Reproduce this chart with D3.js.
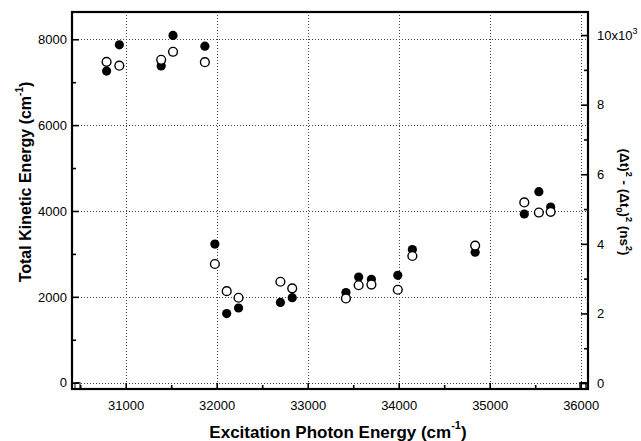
<!DOCTYPE html>
<html>
<head>
<meta charset="utf-8">
<script src="https://cdn.jsdelivr.net/npm/d3@7"></script>
<style>
  html, body { margin: 0; padding: 0; background: #fff; }
  svg { display: block; font-family: "Liberation Sans", Arial, Helvetica, sans-serif; }
</style>
</head>
<body>
<svg id="chart" width="641" height="441"></svg>
<script>
// Excitation photon energy (cm^-1)
const photonEnergy = [30790, 30930, 31390, 31520, 31870, 31980, 32110, 32240, 32700, 32830,
                      33420, 33560, 33700, 33990, 34150, 34840, 35380, 35540, 35670];
// Total kinetic energy (cm^-1), filled circles, left axis
const kineticEnergy = [7260, 7870, 7380, 8090, 7840, 3230, 1610, 1740, 1870, 1980,
                       2100, 2460, 2410, 2500, 3100, 3040, 3930, 4450, 4090];
// (Δt)^2 - (Δt0)^2 (ns^2), open circles, right axis
const timeSpread = [9230, 9120, 9290, 9520, 9220, 3420, 2640, 2450, 2910, 2720,
                    2430, 2810, 2830, 2680, 3650, 3950, 5190, 4900, 4920];

const xTicks = [31000, 32000, 33000, 34000, 35000, 36000];
const xMinorTicks = [30500, 31500, 32500, 33500, 34500, 35500];
const yLeftTicks = [0, 2000, 4000, 6000, 8000];
const yLeftMinor = [1000, 3000, 5000, 7000];
const yRightTicks = [0, 2000, 4000, 6000, 8000, 10000];
const yRightMinor = [1000, 3000, 5000, 7000, 9000];

const L = 72, R = 588, T = 12, B = 389;
const svg = d3.select("#chart");

const x = d3.scaleLinear().domain([30410, 36080]).range([L, R]);
const yL = d3.scaleLinear().domain([-147, 8635]).range([B, T]);
const yR = d3.scaleLinear().domain([-172, 10663]).range([B, T]);

// grid (dotted)
const grid = svg.append("g").attr("stroke", "#444").attr("stroke-width", 1)
  .attr("stroke-dasharray", "1,2").attr("fill", "none");
xTicks.forEach(v => grid.append("line")
  .attr("x1", Math.round(x(v)) + 0.5).attr("x2", Math.round(x(v)) + 0.5)
  .attr("y1", T).attr("y2", B));
yLeftTicks.forEach(v => grid.append("line")
  .attr("x1", L).attr("x2", R)
  .attr("y1", Math.round(yL(v)) + 0.5).attr("y2", Math.round(yL(v)) + 0.5));

// axes via d3
const tickFont = 13;
const xAxis = d3.axisBottom(x).tickValues(xTicks).tickSizeInner(-6).tickSizeOuter(0).tickPadding(12)
  .tickFormat(d3.format("d"));
const gx = svg.append("g").attr("transform", `translate(0,${B})`).call(xAxis);
const xAxisMinor = d3.axisBottom(x).tickValues(xMinorTicks).tickSizeInner(-4).tickSizeOuter(0).tickFormat("");
const gxm = svg.append("g").attr("transform", `translate(0,${B})`).call(xAxisMinor);

const yAxisL = d3.axisLeft(yL).tickValues(yLeftTicks).tickSizeInner(-7).tickSizeOuter(0).tickPadding(5)
  .tickFormat(d3.format("d"));
const gyl = svg.append("g").attr("transform", `translate(${L},0)`).call(yAxisL);
const yAxisLMinor = d3.axisLeft(yL).tickValues(yLeftMinor).tickSizeInner(-4).tickSizeOuter(0).tickFormat("");
const gylm = svg.append("g").attr("transform", `translate(${L},0)`).call(yAxisLMinor);

const yAxisR = d3.axisRight(yR).tickValues(yRightTicks).tickSizeInner(-7).tickSizeOuter(0).tickPadding(9)
  .tickFormat(d => d === 10000 ? "10x10" : String(d / 1000));
const gyr = svg.append("g").attr("transform", `translate(${R},0)`).call(yAxisR);
const yAxisRMinor = d3.axisRight(yR).tickValues(yRightMinor).tickSizeInner(-4).tickSizeOuter(0).tickFormat("");
const gyrm = svg.append("g").attr("transform", `translate(${R},0)`).call(yAxisRMinor);

[gx, gxm, gyl, gylm, gyr, gyrm].forEach(g => {
  g.select(".domain").remove();
  g.selectAll("line").attr("stroke", "#000").attr("stroke-width", 1.6);
  g.selectAll("text").attr("font-size", tickFont).attr("fill", "#000")
    .attr("font-family", "Liberation Sans, Arial, sans-serif");
});
gyr.selectAll("text").filter(d => d === 10000)
  .append("tspan").attr("dy", -6).attr("font-size", 9).text("3");

// frame
svg.append("rect").attr("x", L).attr("y", T).attr("width", R - L).attr("height", B - T)
  .attr("fill", "none").attr("stroke", "#000").attr("stroke-width", 2.2);

// small corner boxes at the zero lines
svg.append("rect").attr("x", L + 3).attr("y", yL(0)).attr("width", 5).attr("height", B - yL(0))
  .attr("fill", "none").attr("stroke", "#000").attr("stroke-width", 1);
svg.append("rect").attr("x", R - 8).attr("y", yL(0)).attr("width", 6).attr("height", B - yL(0))
  .attr("fill", "none").attr("stroke", "#000").attr("stroke-width", 1.4);

// data: filled circles (left axis)
svg.append("g").selectAll("circle").data(photonEnergy).join("circle")
  .attr("cx", d => x(d)).attr("cy", (d, i) => yL(kineticEnergy[i])).attr("r", 4.6)
  .attr("fill", "#000");
// data: open circles (right axis)
svg.append("g").selectAll("circle").data(photonEnergy).join("circle")
  .attr("cx", d => x(d)).attr("cy", (d, i) => yR(timeSpread[i])).attr("r", 4.4)
  .attr("fill", "#fff").attr("stroke", "#000").attr("stroke-width", 1.4);

// axis titles
const xt = svg.append("text").attr("x", 338).attr("y", 438)
  .attr("text-anchor", "middle").attr("font-weight", "bold").attr("font-size", 17);
xt.append("tspan").text("Excitation Photon Energy (cm");
xt.append("tspan").attr("dy", -9).attr("font-size", 11).text("-1");
xt.append("tspan").attr("dy", 9).text(")");

const yt = svg.append("text").attr("transform", `translate(31,182) rotate(-90)`)
  .attr("text-anchor", "middle").attr("font-weight", "bold").attr("font-size", 16);
yt.append("tspan").text("Total Kinetic Energy (cm");
yt.append("tspan").attr("dy", -8).attr("font-size", 10).text("-1");
yt.append("tspan").attr("dy", 8).text(")");

const rt = svg.append("text").attr("transform", `translate(620,202) rotate(90)`)
  .attr("text-anchor", "middle").attr("font-weight", "bold").attr("font-size", 13.5);
rt.append("tspan").text("(Δt)");
rt.append("tspan").attr("dy", -6).attr("font-size", 9).text("2");
rt.append("tspan").attr("dy", 6).text(" - (Δt");
rt.append("tspan").attr("dy", 4).attr("font-size", 9).text("0");
rt.append("tspan").attr("dy", -4).text(")");
rt.append("tspan").attr("dy", -6).attr("font-size", 9).text("2");
rt.append("tspan").attr("dy", 6).text("  (ns");
rt.append("tspan").attr("dy", -6).attr("font-size", 9).text("2");
rt.append("tspan").attr("dy", 6).text(")");
</script>
</body>
</html>
